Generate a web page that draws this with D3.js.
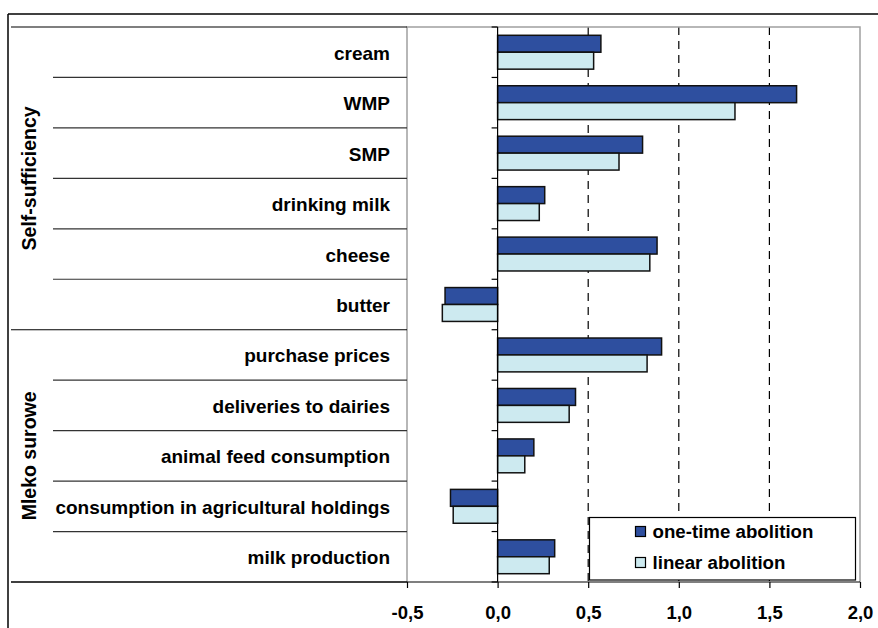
<!DOCTYPE html>
<html>
<head>
<meta charset="utf-8">
<script src="https://cdn.jsdelivr.net/npm/d3@7"></script>
<style>
  html, body { margin: 0; padding: 0; background: #fff; }
  svg { display: block; }
  text { font-family: "Liberation Sans", Arial, sans-serif; font-weight: bold; fill: #000; }
</style>
</head>
<body>
<svg id="chart" width="878" height="628"></svg>
<script>
// Categories, top to bottom
const categories = [
  "cream", "WMP", "SMP", "drinking milk", "cheese", "butter",
  "purchase prices", "deliveries to dairies", "animal feed consumption",
  "consumption in agricultural holdings", "milk production"
];
// Category groups (label, first index, last index)
const groupNames = ["Self-sufficiency", "Mleko surowe"];
const groupStart = [0, 6];
const groupEnd = [5, 10];

const seriesNames = ["one-time abolition", "linear abolition"];
const oneTime = [0.57, 1.65, 0.80, 0.26, 0.88, -0.29, 0.905, 0.43, 0.20, -0.26, 0.315];
const linear  = [0.53, 1.31, 0.67, 0.23, 0.84, -0.305, 0.825, 0.395, 0.15, -0.245, 0.285];
const seriesValues = [oneTime, linear];
const seriesColors = ["#2e4f9f", "#cdeaf0"];

const xTicks = [-0.5, 0, 0.5, 1.0, 1.5, 2.0];
const gridTicks = [0.5, 1.0, 1.5];

const svg = d3.select("#chart");
const plot = { left: 407, right: 860, top: 27, bottom: 582 };
const tableLeft = 11, innerLeft = 53;

const x = d3.scaleLinear().domain([-0.5, 2.0]).range([plot.left, plot.right]);
const y = d3.scaleBand().domain(categories).range([plot.top, plot.bottom]).padding(0);
const ySub = d3.scaleBand().domain(seriesNames).range([0, y.bandwidth()])
  .paddingInner(0).paddingOuter(0.49);
// decimal comma, plain hyphen for negatives
const fmt = v => d3.format(".1f")(v).replace(".", ",").replace("\u2212", "-");

// outer frame
svg.append("line").attr("x1", 8).attr("x2", 878).attr("y1", 14).attr("y2", 14)
  .attr("stroke", "#000").attr("stroke-width", 1.5);
svg.append("line").attr("x1", 8).attr("x2", 8).attr("y1", 14).attr("y2", 628)
  .attr("stroke", "#000").attr("stroke-width", 1.5);

// dashed gridlines
svg.append("g").selectAll("line").data(gridTicks).join("line")
  .attr("x1", d => x(d)).attr("x2", d => x(d))
  .attr("y1", plot.top).attr("y2", plot.bottom)
  .attr("stroke", "#000").attr("stroke-width", 1.2)
  .attr("stroke-dasharray", "8,6");

// plot area border
svg.append("path")
  .attr("d", `M${plot.left},${plot.bottom}V${plot.top}H${plot.right}V${plot.bottom}`)
  .attr("fill", "none").attr("stroke", "#a0a0a0").attr("stroke-width", 1.5);

// category table lines
const boundaries = d3.range(categories.length + 1).map(i =>
  i < categories.length ? y(categories[i]) : plot.bottom);
const table = svg.append("g");
boundaries.forEach((yy, i) => {
  const isGroupEdge = i === 0 || i === categories.length || groupStart.includes(i);
  table.append("line")
    .attr("x1", isGroupEdge ? tableLeft : innerLeft).attr("x2", plot.left)
    .attr("y1", yy).attr("y2", yy)
    .attr("stroke", isGroupEdge ? "#000" : "#333").attr("stroke-width", 1.2);
});

// bars
const barG = svg.append("g");
seriesValues.forEach((vals, s) => {
  barG.append("g").selectAll("rect").data(vals).join("rect")
    .attr("x", d => x(Math.min(0, d)))
    .attr("width", d => Math.abs(x(d) - x(0)))
    .attr("y", (d, i) => y(categories[i]) + ySub(seriesNames[s]))
    .attr("height", ySub.bandwidth())
    .attr("fill", seriesColors[s])
    .attr("stroke", "#111").attr("stroke-width", 1.5);
});

// category axis at zero
const yAxis = svg.append("g").attr("transform", `translate(${x(0)},0)`);
yAxis.append("line").attr("x1", 0).attr("x2", 0).attr("y1", plot.top).attr("y2", plot.bottom)
  .attr("stroke", "#000").attr("stroke-width", 1.2);
yAxis.selectAll("line.tick").data(boundaries).join("line").attr("class", "tick")
  .attr("x1", -6).attr("x2", 0).attr("y1", d => d).attr("y2", d => d)
  .attr("stroke", "#000").attr("stroke-width", 1.2);

// value axis
const xAxis = svg.append("g").attr("transform", `translate(0,${plot.bottom})`)
  .call(d3.axisBottom(x).tickValues(xTicks).tickFormat(fmt).tickSize(6).tickPadding(0));
xAxis.select(".domain").remove();
xAxis.selectAll(".tick line").attr("stroke", "#000").attr("stroke-width", 1.2);
xAxis.selectAll(".tick text")
  .attr("y", 37).attr("dy", null)
  .style("font-family", "'Liberation Sans', Arial, sans-serif")
  .style("font-weight", "bold").style("font-size", "18.5px").attr("fill", "#000");
svg.append("line").attr("x1", tableLeft).attr("x2", plot.right)
  .attr("y1", plot.bottom).attr("y2", plot.bottom)
  .attr("stroke", "#000").attr("stroke-width", 1.2);

// category labels
svg.append("g").selectAll("text").data(categories).join("text")
  .attr("x", 390).attr("y", d => y(d) + y.bandwidth() / 2 + 7.5)
  .attr("text-anchor", "end").style("font-size", "19px")
  .text(d => d);

// group labels
groupNames.forEach((g, i) => {
  const cy = (boundaries[groupStart[i]] + boundaries[groupEnd[i] + 1]) / 2;
  svg.append("text")
    .attr("transform", `translate(36,${cy}) rotate(-90)`)
    .attr("text-anchor", "middle").style("font-size", "19.5px")
    .text(g);
});

// legend
const legend = svg.append("g");
legend.append("rect").attr("x", 589.5).attr("y", 517.5).attr("width", 266).attr("height", 62.5)
  .attr("fill", "#fff").attr("stroke", "#000").attr("stroke-width", 1.2);
seriesNames.forEach((name, i) => {
  const by = 537.5 + i * 31;
  legend.append("rect").attr("x", 635.5).attr("y", by - 11).attr("width", 10).attr("height", 10)
    .attr("fill", seriesColors[i]).attr("stroke", "#000").attr("stroke-width", 1.2);
  legend.append("text").attr("x", 652.5).attr("y", by)
    .style("font-size", "18.7px").text(name);
});
</script>
</body>
</html>
